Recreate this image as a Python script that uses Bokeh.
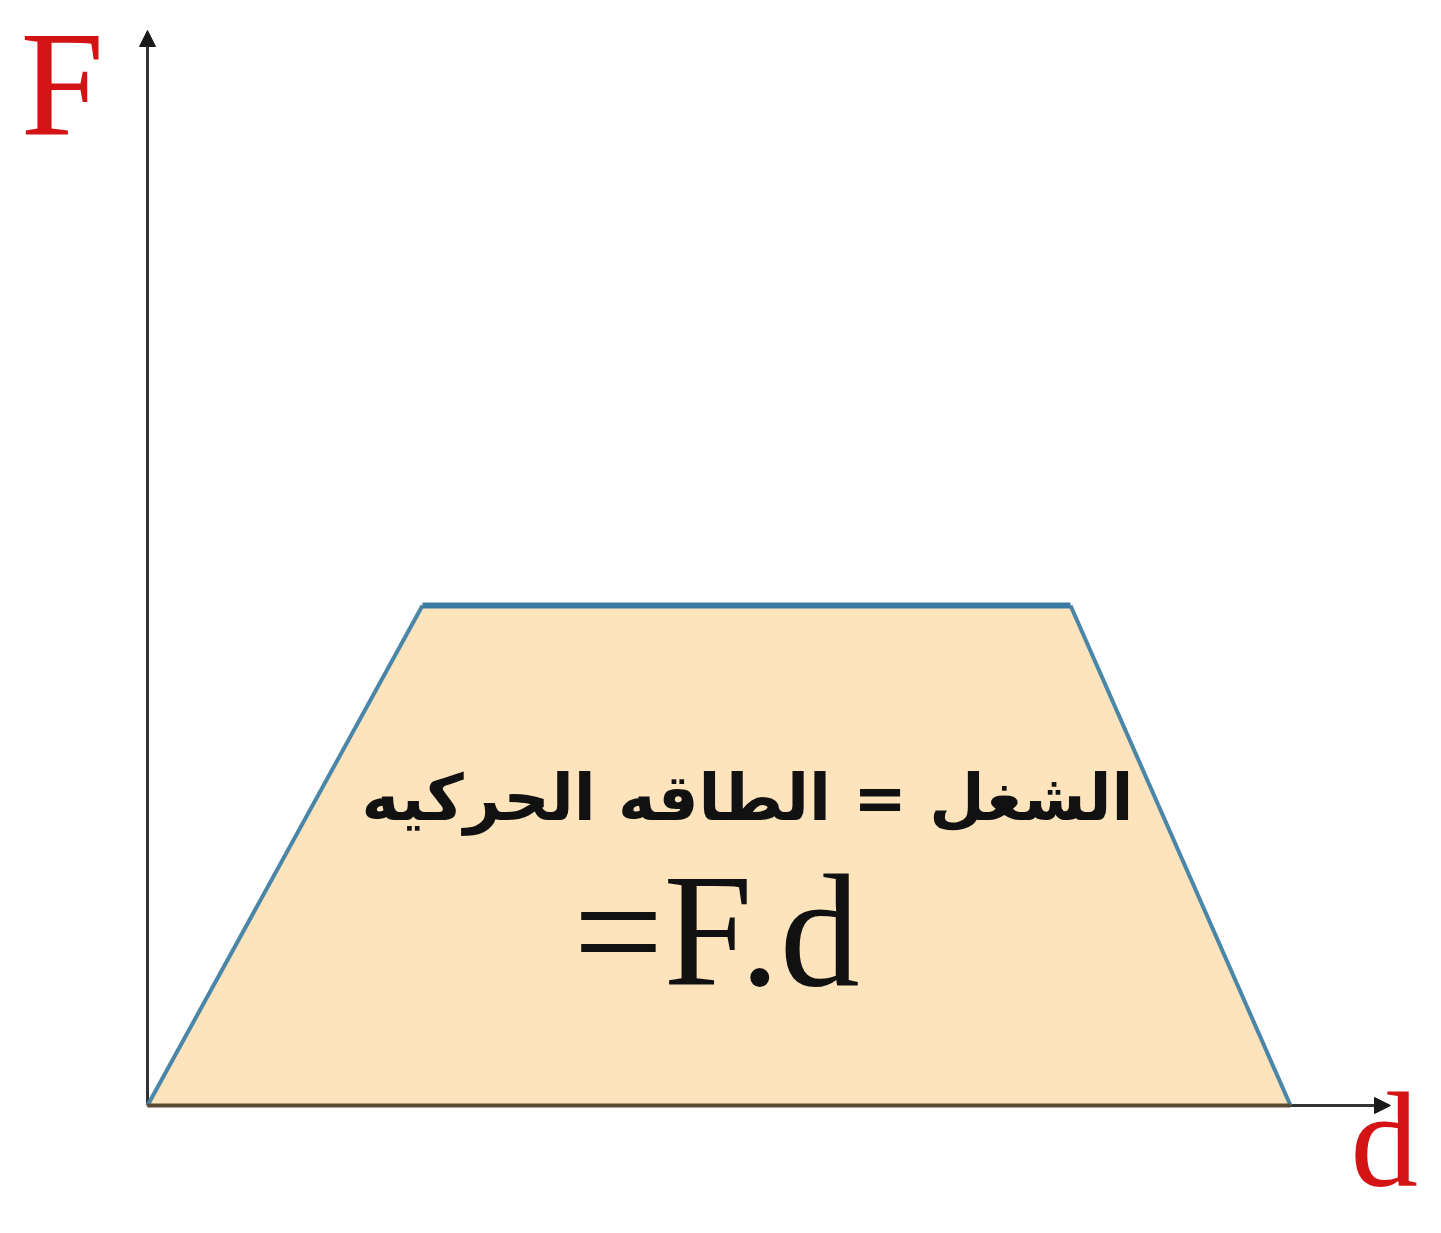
from bokeh.plotting import figure
from bokeh.models import Arrow, NormalHead
from bokeh.core.properties import value
from bokeh.embed import file_html
from bokeh.resources import INLINE

# Data (arbitrary units)
d_vals = [0.0, 2.75, 9.23, 11.43]
f_vals = [0.0, 5.0, 5.0, 0.0]
axis_x_end = 12.43
axis_y_end = 10.75
arabic_label = "الشغل = الطاقه الحركيه"
formula_label = "=F.d"
y_label = "F"
x_label = "d"

W, H = 1425, 1217
p = figure(width=W, height=H, output_backend="svg", toolbar_location=None,
           x_range=(-1.47, 12.78), y_range=(-1.12, 11.05),
           min_border=0, background_fill_color="white", border_fill_color="white")
p.axis.visible = False
p.grid.visible = False
p.outline_line_color = None

# axes arrows (under the glyphs)
p.add_layout(Arrow(end=NormalHead(size=16, fill_color="#1a1a1a", line_color="#1a1a1a"),
                   x_start=0, y_start=0, x_end=0, y_end=axis_y_end,
                   line_width=3, line_color="#333333", level="underlay"))
p.add_layout(Arrow(end=NormalHead(size=16, fill_color="#1a1a1a", line_color="#1a1a1a"),
                   x_start=0, y_start=0, x_end=axis_x_end, y_end=0,
                   line_width=3, line_color="#333333", level="underlay"))

# filled area
p.patch(d_vals, f_vals, fill_color="#FDE4BD", line_color=None)
# sides
p.line(d_vals[0:2], f_vals[0:2], line_color="#4a86a8", line_width=4)
p.line(d_vals[2:4], f_vals[2:4], line_color="#4a86a8", line_width=4)
p.line(d_vals[1:3], f_vals[1:3], line_color="#3a7aa2", line_width=6)
# bottom
p.line([d_vals[0], d_vals[3]], [f_vals[0], f_vals[3]], line_color="#5a4a32", line_width=4)

# texts
p.text(x=[6.0], y=[3.08], text=[arabic_label], text_font=value("DejaVu Sans"),
       text_font_style="bold", text_font_size="64px", text_align="center",
       text_baseline="alphabetic", text_color="#111111")
p.text(x=[5.69], y=[1.75], text=[formula_label], text_font=value("Liberation Serif"),
       text_font_size="160px", text_align="center", text_baseline="alphabetic",
       text_color="#111111")
p.text(x=[-1.27], y=[10.23], text=[y_label], text_font=value("Liberation Serif"),
       text_font_size="150px", text_align="left", text_baseline="alphabetic",
       text_color="#d41414")
p.text(x=[12.03], y=[-0.35], text=[x_label], text_font=value("Liberation Serif"),
       text_font_size="135px", text_align="left", text_baseline="alphabetic",
       text_color="#d41414")

open("out.html", "w").write(file_html(p, INLINE))
